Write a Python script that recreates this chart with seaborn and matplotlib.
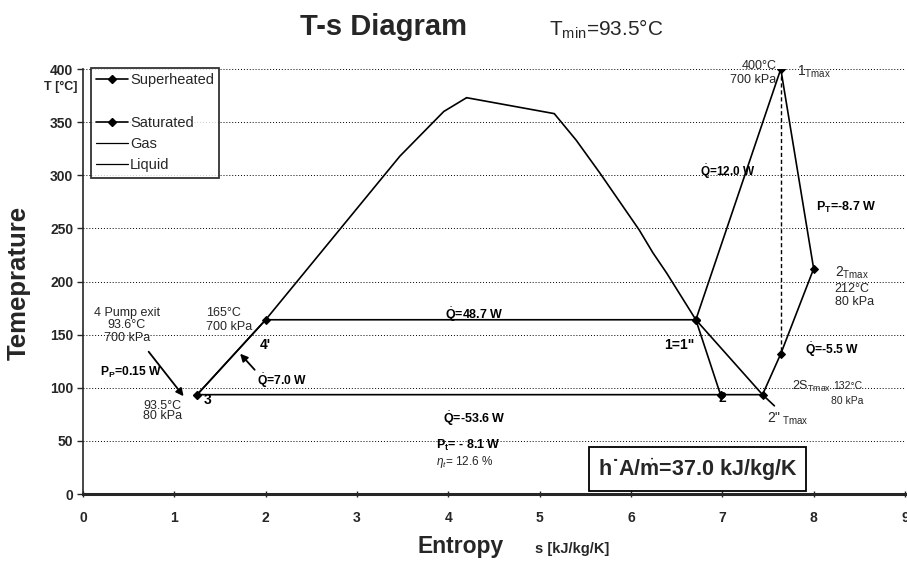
import numpy as np
import pandas as pd
import seaborn as sns
import matplotlib.pyplot as plt
from matplotlib.lines import Line2D

# saturation dome
liquid_s = [1.25, 2.0, 3.47, 3.95, 4.2]
liquid_T = [93.5, 164, 318, 360, 373]
gas_s = [4.2, 5.16, 5.40, 5.66, 6.09, 6.24, 6.39, 6.71, 7.44, 7.57]
gas_T = [373, 358, 333, 302, 248.5, 227, 208, 164, 93.5, 83]

# saturated cycle 1 - 2 - 3 - 4 - 4' - 1
sat_s = [6.71, 6.98, 1.25, 1.25, 2.0, 6.71]
sat_T = [164, 93.5, 93.5, 93.6, 164, 164]

# superheated cycle 1" - 1Tmax - 2Tmax - 2s - 2" - 2
sup_s = [6.71, 7.64, 8.0, 7.64, 7.44, 6.98]
sup_T = [164, 400, 212, 132, 93.5, 93.5]

# isentropic expansion 1Tmax -> 2s
iso_s = [7.64, 7.64]
iso_T = [400, 132]

x_ticks = list(range(0, 10))
y_ticks = list(range(0, 401, 50))

sns.set_style("white")
plt.rcParams['font.family'] = ['Liberation Sans', 'DejaVu Sans']
plt.rcParams['mathtext.fontset'] = 'custom'
plt.rcParams['mathtext.rm'] = 'Liberation Sans'
plt.rcParams['mathtext.it'] = 'Liberation Sans:italic'
plt.rcParams['mathtext.bf'] = 'Liberation Sans:bold'

fig = plt.figure(figsize=(9.07, 5.61), dpi=100)
ax = fig.add_axes([0.0915, 0.1194, 0.9063, 0.7576])

lw = 1.2
sns.lineplot(x=liquid_s, y=liquid_T, sort=False, estimator=None, color='black', lw=lw, ax=ax)
sns.lineplot(x=gas_s, y=gas_T, sort=False, estimator=None, color='black', lw=lw, ax=ax)
sns.lineplot(x=sat_s, y=sat_T, sort=False, estimator=None, color='black', lw=lw,
             marker='D', markersize=4.5, markeredgecolor='black', ax=ax)
sns.lineplot(x=sup_s, y=sup_T, sort=False, estimator=None, color='black', lw=lw,
             marker='D', markersize=4.5, markeredgecolor='black', ax=ax)
sns.lineplot(x=iso_s, y=iso_T, sort=False, estimator=None, color='black', lw=1.0,
             linestyle=(0, (3, 2)), ax=ax)

ax.set_xlim(0, 9)
ax.set_ylim(0, 400)
ax.set_xticks(x_ticks)
ax.set_yticks(y_ticks)
ax.set_xticklabels([str(t) for t in x_ticks], fontweight='bold', fontsize=10)
ax.set_yticklabels([str(t) for t in y_ticks], fontweight='bold', fontsize=10)
ax.tick_params(axis='y', direction='out', length=4, width=1, left=True, pad=3)
ax.tick_params(axis='x', direction='inout', length=5, width=1, bottom=True, pad=10)
ax.set_xlabel('')
ax.set_ylabel('')
for t in y_ticks[1:]:
    ax.axhline(t, color='black', lw=0.7, linestyle=(0, (1, 2)), zorder=0)
ax.spines['top'].set_visible(False)
ax.spines['right'].set_visible(False)
ax.spines['left'].set_linewidth(1.2)
ax.spines['bottom'].set_linewidth(2.2)

# legend
handles = [
    Line2D([], [], color='black', lw=lw, marker='D', markersize=4),
    Line2D([], [], color='none'),
    Line2D([], [], color='black', lw=lw, marker='D', markersize=4),
    Line2D([], [], color='black', lw=0.9),
    Line2D([], [], color='black', lw=0.9),
]
labels = ['Superheated', ' ', 'Saturated', 'Gas', 'Liquid']
leg = ax.legend(handles, labels, loc='upper left', bbox_to_anchor=(0.01, 1.002),
                fontsize=10.5, frameon=True, fancybox=False, edgecolor='black',
                handlelength=2.2, handletextpad=0.1, labelspacing=0.5,
                borderpad=0.35, borderaxespad=0.0)
leg.get_frame().set_linewidth(1.3)

bold = dict(fontweight='bold', color='black')
qd = r'$\dot{\mathbf{Q}}$'

# annotations around the cycle
ax.text(7.59, 403, '400°C', fontsize=9, ha='right', va='center')
ax.text(7.59, 390, '700 kPa', fontsize=9, ha='right', va='center')
ax.text(7.82, 397, r'1$_{\mathrm{Tmax}}$', fontsize=10, va='center')
ax.text(6.75, 303, qd + '=12.0 W', fontsize=8.5, va='center', **bold)
ax.text(8.03, 270, r'$\mathbf{P_T}$=-8.7 W', fontsize=9, va='center', **bold)
ax.text(8.23, 208, r'2$_{\mathrm{Tmax}}$', fontsize=10, va='center')
ax.text(8.23, 193, '212°C', fontsize=9, va='center')
ax.text(8.23, 181, '80 kPa', fontsize=9, va='center')
ax.text(7.91, 136, qd + '=-5.5 W', fontsize=8.7, va='center', **bold)
ax.text(7.76, 101, r'2S$_{\mathrm{Tmax}}$', fontsize=9, va='center')
ax.text(8.21, 102, '132°C', fontsize=7.5, va='center')
ax.text(8.19, 87.5, '80 kPa', fontsize=7.5, va='center')
ax.text(7.49, 70.5, r'2"$_{\mathrm{\ Tmax}}$', fontsize=10, va='center')
ax.text(7.0, 90, '2', fontsize=10, ha='center', va='center', **bold)
ax.text(6.69, 140, '1=1"', fontsize=10, ha='right', va='center', **bold)
ax.text(3.96, 169, qd + '=48.7 W', fontsize=9, va='center', **bold)
ax.text(3.94, 71, qd + '=-53.6 W', fontsize=9, va='center', **bold)
ax.text(3.87, 46, r'$\mathbf{P_t}$= - 8.1 W', fontsize=9, va='center', **bold)
ax.text(3.87, 30, r'$\eta_t$= 12.6 %', fontsize=8.5, va='center')

ax.text(1.35, 170, '165°C', fontsize=9, va='center')
ax.text(1.35, 157, '700 kPa', fontsize=9, va='center')
ax.text(1.93, 140, "4'", fontsize=10, va='center', **bold)
ax.text(1.32, 88.5, '3', fontsize=10, va='center', **bold)
ax.text(1.08, 83, '93.5°C', fontsize=9, ha='right', va='center')
ax.text(1.08, 73, '80 kPa', fontsize=9, ha='right', va='center')
ax.text(0.48, 170, '4 Pump exit', fontsize=9, ha='center', va='center')
ax.text(0.48, 159, '93.6°C', fontsize=9, ha='center', va='center')
ax.text(0.48, 147, '700 kPa', fontsize=9, ha='center', va='center')
ax.text(0.19, 114, r'$\mathbf{P_P}$=0.15 W', fontsize=8.7, va='center', **bold)
ax.text(1.91, 107, qd + '=7.0 W', fontsize=8.7, va='center', **bold)

ax.annotate('', xy=(1.12, 90), xytext=(0.70, 136),
            arrowprops=dict(arrowstyle='-|>', color='black', lw=1.3, mutation_scale=11))
ax.annotate('', xy=(1.70, 134), xytext=(1.90, 115),
            arrowprops=dict(arrowstyle='-|>', color='black', lw=1.3, mutation_scale=11))

ax.text(6.73, 23.5, 'h\u02d9A/' + r'$\dot{\mathbf{m}}$' + '=37.0 kJ/kg/K', fontsize=15.5,
        ha='center', va='center', fontweight='bold',
        bbox=dict(boxstyle='square,pad=0.42', fc='white', ec='black', lw=1.3))

# titles and axis labels
fig.text(0.423, 0.952, 'T-s Diagram', fontsize=21, fontweight='bold', ha='center', va='center')
fig.text(0.605, 0.948, r'T$_{\mathrm{min}}$=93.5°C', fontsize=15, ha='left', va='center')
fig.text(0.021, 0.4955, 'Temeprature', fontsize=18.5, fontweight='bold', rotation=90,
         ha='center', va='center')
fig.text(0.085, 0.845, 'T [°C]', fontsize=9, fontweight='bold', ha='right', va='center')
fig.text(0.508, 0.025, 'Entropy', fontsize=16.5, fontweight='bold', ha='center', va='center')
fig.text(0.59, 0.021, 's [kJ/kg/K]', fontsize=10.5, fontweight='bold', ha='left', va='center')

fig.savefig('out.png', dpi=100)
